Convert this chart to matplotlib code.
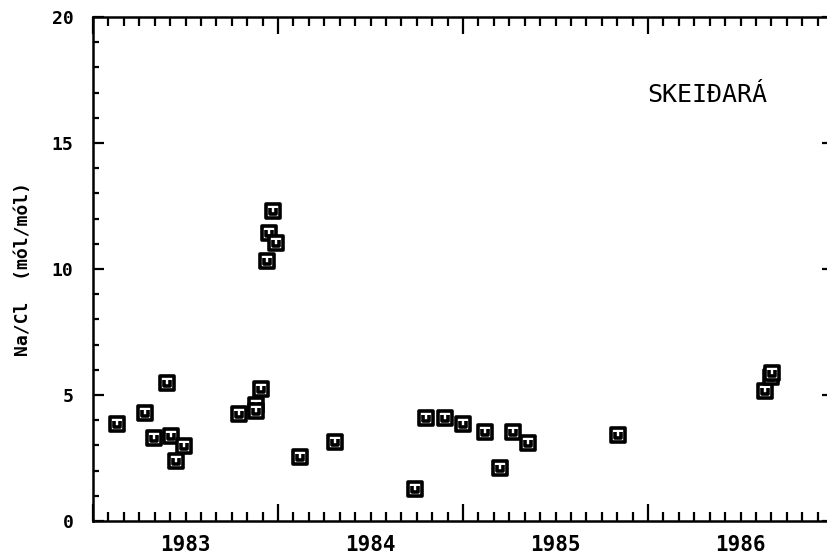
import numpy as np
import matplotlib.pyplot as plt
from matplotlib.path import Path

# Na/Cl ratio, sample dates as decimal years
t_sample = [1983.13, 1983.28, 1983.33, 1983.40, 1983.42, 1983.45, 1983.49,
            1983.79, 1983.88, 1983.88, 1983.91,
            1983.94, 1983.95, 1983.975, 1983.99,
            1984.12, 1984.31, 1984.74, 1984.80, 1984.90, 1985.00,
            1985.12, 1985.20, 1985.27, 1985.35, 1985.84,
            1986.635, 1986.665, 1986.67]
na_cl = [3.84, 4.27, 3.28, 5.49, 3.39, 2.38, 2.99,
         4.23, 4.62, 4.38, 5.23,
         10.32, 11.44, 12.31, 11.04,
         2.53, 3.15, 1.27, 4.07, 4.07, 3.84,
         3.54, 2.09, 3.52, 3.08, 3.41,
         5.17, 5.72, 5.86]

years = [1983, 1984, 1985, 1986]
river = "SKEIÐARÁ"

mono = "DejaVu Sans Mono"

# plotter style box symbol: square with a small cup inside
verts = [(-1, -1), (1, -1), (1, 1), (-1, 1), (-1, -1),
         (-0.35, 0.45), (-0.35, -0.35), (0.35, -0.35), (0.35, 0.45)]
codes = [Path.MOVETO, Path.LINETO, Path.LINETO, Path.LINETO, Path.CLOSEPOLY,
         Path.MOVETO, Path.LINETO, Path.LINETO, Path.LINETO]
boxsym = Path(verts, codes)

fig = plt.figure(figsize=(8.27, 5.60), dpi=100)
ax = fig.add_axes([93/827, 39/560, 740/827, 504/560])

ax.plot(t_sample, na_cl, linestyle="none", marker=boxsym, markersize=10.5,
        markerfacecolor="white", markeredgecolor="black", markeredgewidth=2.6)

ax.set_xlim(1983, 1987)
ax.set_ylim(0, 20)

# year boundaries as long ticks, months as short ones
ax.set_xticks(years + [1987])
ax.set_xticks([y + m/12 for y in years for m in range(1, 12)], minor=True)
ax.set_xticklabels([])
ax.set_yticks([0, 5, 10, 15, 20])
ax.set_yticks(np.arange(0, 21, 1), minor=True)
ax.set_yticklabels(["0", "5", "10", "15", "20"], family=mono,
                   fontweight="bold", fontsize=13)

ax.tick_params(which="both", direction="in", top=True, right=True, width=1.6)
ax.tick_params(axis="x", which="major", length=12)
ax.tick_params(axis="x", which="minor", length=6.5)
ax.tick_params(axis="y", which="major", length=8, pad=14)
ax.tick_params(axis="y", which="minor", length=4.5)

for sp in ax.spines.values():
    sp.set_linewidth(1.8)
ax.spines["right"].set_visible(False)

# year names centred between the boundary ticks
sec = ax.secondary_xaxis("bottom")
sec.set_xticks([y + 0.5 for y in years])
sec.set_xticklabels([str(y) for y in years], family=mono,
                    fontweight="bold", fontsize=15)
sec.tick_params(length=0, pad=10)
sec.spines["bottom"].set_visible(False)

ax.set_ylabel("Na/Cl  (mól/mól)", family=mono, fontweight="bold",
              fontsize=13, labelpad=14)

ax.text(1986.32, 16.9, river, family=mono, fontsize=18,
        ha="center", va="center")

fig.savefig("out.png", dpi=100)
